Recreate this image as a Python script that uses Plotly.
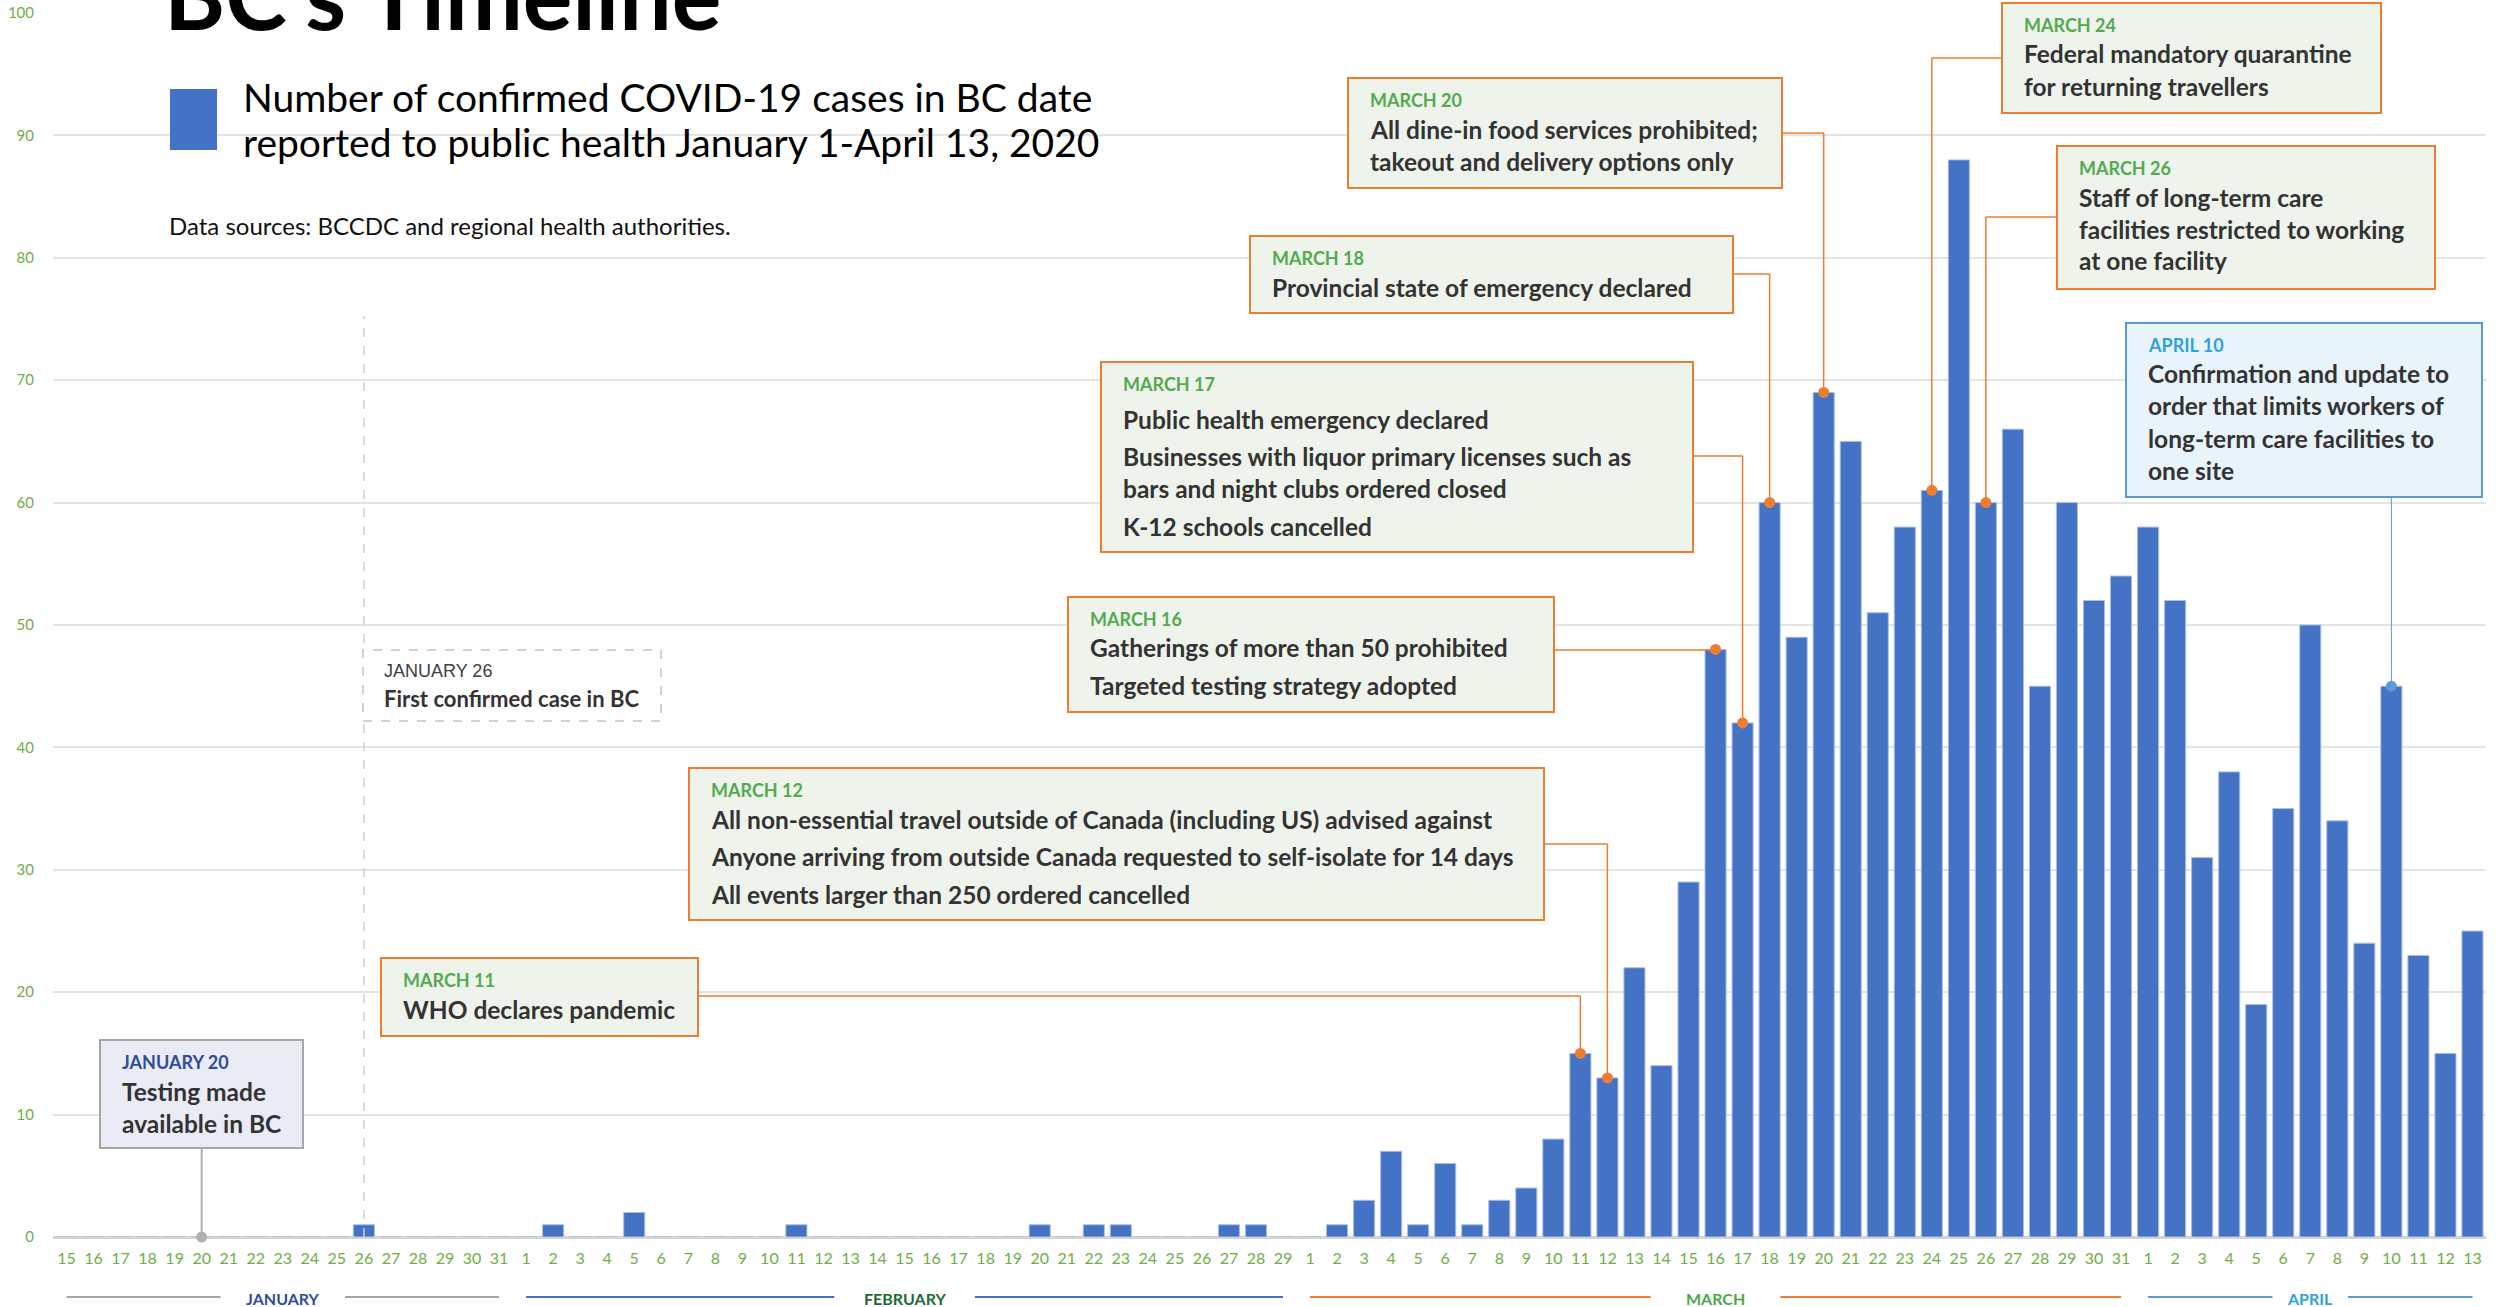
import pandas as pd
import plotly.graph_objects as go

# Confirmed COVID-19 cases in BC by date reported to public health
jan_days = list(range(15, 32))
feb_days = list(range(1, 30))
mar_days = list(range(1, 32))
apr_days = list(range(1, 14))

jan_cases = [0, 0, 0, 0, 0, 0, 0, 0, 0, 0, 0, 1, 0, 0, 0, 0, 0]
feb_cases = [0, 1, 0, 0, 2, 0, 0, 0, 0, 0, 1, 0, 0, 0, 0,
             0, 0, 0, 0, 1, 0, 1, 1, 0, 0, 0, 1, 1, 0]
mar_cases = [0, 1, 3, 7, 1, 6, 1, 3, 4, 8, 15, 13, 22, 14, 29, 48,
             42, 60, 49, 69, 65, 51, 58, 61, 88, 60, 66, 45, 60, 52, 54]
apr_cases = [58, 52, 31, 38, 19, 35, 50, 34, 24, 45, 23, 15, 25]

month_names = ["JANUARY", "FEBRUARY", "MARCH", "APRIL"]
month_nums = [1, 2, 3, 4]
month_days = [jan_days, feb_days, mar_days, apr_days]

dates = [pd.Timestamp(2020, m, d) for m, days in zip(month_nums, month_days) for d in days]
cases = jan_cases + feb_cases + mar_cases + apr_cases
case_on = dict(zip(dates, cases))

# colours
BAR_BLUE = "#4472c4"
AXIS_GREEN = "#70ad47"
ORANGE = "#ed7d31"
TEXT = "#333333"
FONT = "Lato"

month_text_colors = ["#2f4b9c", "#1d6b33", "#4ea84a", "#2ea3d6"]
month_line_colors = ["#a6a6a6", "#4472c4", ORANGE, "#5b9bd5"]
month_gap = [2.3, 2.6, 2.4, 1.4]   # half gap (days) left round the month label

box_styles = {
    "orange": dict(fill="#eef4ec", line=ORANGE, title="#55a94f", link=ORANGE, lw=1.5),
    "grey": dict(fill="#e9ebf5", line="#a6a6a6", title="#2f4b9c", link="#b0b0b0", lw=2),
    "blue": dict(fill="#e8f3fa", line="#5b9bd5", title="#2fa3d6", link="#5b9bd5", lw=1),
}

# timeline events: date, title, body items (wrapped lines), box in px, link side, link y in px
events = [
    dict(date="2020-01-20", title="JANUARY 20", body=[["Testing made", "available in BC"]],
         box=(100, 1040, 303, 1148), side="below", style="grey"),
    dict(date="2020-03-11", title="MARCH 11", body=[["WHO declares pandemic"]],
         box=(381, 958, 698, 1036), side="right", ly=996, style="orange"),
    dict(date="2020-03-12", title="MARCH 12",
         body=[["All non-essential travel outside of Canada (including US) advised against"],
               ["Anyone arriving from outside Canada requested to self-isolate for 14 days"],
               ["All events larger than 250 ordered cancelled"]],
         box=(689, 768, 1544, 920), side="right", ly=844, style="orange"),
    dict(date="2020-03-16", title="MARCH 16",
         body=[["Gatherings of more than 50 prohibited"], ["Targeted testing strategy adopted"]],
         box=(1068, 597, 1554, 712), side="right", ly=650, style="orange"),
    dict(date="2020-03-17", title="MARCH 17",
         body=[["Public health emergency declared"],
               ["Businesses with liquor primary licenses such as", "bars and night clubs ordered closed"],
               ["K-12 schools cancelled"]],
         box=(1101, 362, 1693, 552), side="right", ly=456, style="orange", first=35),
    dict(date="2020-03-18", title="MARCH 18", body=[["Provincial state of emergency declared"]],
         box=(1250, 236, 1733, 313), side="right", ly=274, style="orange"),
    dict(date="2020-03-20", title="MARCH 20",
         body=[["All dine-in food services prohibited;", "takeout and delivery options only"]],
         box=(1348, 78, 1782, 188), side="right", ly=133, style="orange"),
    dict(date="2020-03-24", title="MARCH 24",
         body=[["Federal mandatory quarantine", "for returning travellers"]],
         box=(2002, 3, 2381, 113), side="left", ly=58, style="orange"),
    dict(date="2020-03-26", title="MARCH 26",
         body=[["Staff of long-term care", "facilities restricted to working", "at one facility"]],
         box=(2057, 146, 2435, 289), side="left", ly=217, style="orange"),
    dict(date="2020-04-10", title="APRIL 10",
         body=[["Confirmation and update to", "order that limits workers of",
                "long-term care facilities to", "one site"]],
         box=(2126, 323, 2482, 497), side="below", style="blue"),
]

# plot area in page pixels
PL, PT, PW, PH = 53, 13, 2433, 1224
DAY_PX = PW / len(dates)


def px_x(px):
    return (px - PL) / PW


def px_y(py):
    return (PT + PH - py) / PH


def day_at(px):
    return dates[0] + pd.Timedelta(days=(px - PL) / DAY_PX - 0.5)


def val_at(py):
    return (PT + PH - py) / PH * 100


fig = go.Figure()

fig.add_trace(go.Bar(
    x=dates, y=cases,
    marker=dict(color=BAR_BLUE, line=dict(color="#a9bfe8", width=1)),
    name="Number of confirmed COVID-19 cases",
    hovertemplate="%{x|%b %d}: %{y}<extra></extra>",
))

# ---- callout boxes with connectors
for ev in events:
    st = box_styles[ev["style"]]
    x0, y0, x1, y1 = ev["box"]
    d = pd.Timestamp(ev["date"])
    v = case_on[d]
    fig.add_shape(type="rect", xref="paper", yref="paper",
                  x0=px_x(x0), x1=px_x(x1), y0=px_y(y1), y1=px_y(y0),
                  fillcolor=st["fill"], line=dict(color=st["line"], width=2))
    if ev["side"] == "below":
        fig.add_shape(type="line", x0=d, x1=d, y0=val_at(y1), y1=v,
                      line=dict(color=st["link"], width=st["lw"]))
    else:
        edge = x1 if ev["side"] == "right" else x0
        ly = val_at(ev["ly"])
        fig.add_shape(type="line", x0=day_at(edge), x1=d, y0=ly, y1=ly,
                      line=dict(color=st["link"], width=st["lw"]))
        fig.add_shape(type="line", x0=d, x1=d, y0=ly, y1=v,
                      line=dict(color=st["link"], width=st["lw"]))

    tx = px_x(x0 + 20)
    cy = y0 + 22
    fig.add_annotation(xref="paper", yref="paper", x=tx, y=px_y(cy), text=ev["title"],
                       xanchor="left", yanchor="middle", showarrow=False,
                       font=dict(family=FONT, size=18, color=st["title"], weight="bold"))
    cy += ev.get("first", 29)
    for i, item in enumerate(ev["body"]):
        if i > 0:
            cy += 37.5
        for j, line in enumerate(item):
            if j > 0:
                cy += 32
            fig.add_annotation(xref="paper", yref="paper", x=tx, y=px_y(cy), text=line,
                               xanchor="left", yanchor="middle", showarrow=False,
                               font=dict(family=FONT, size=24.5, color=TEXT, weight="bold"))

# dots at the bar tops
dot_dates = [pd.Timestamp(ev["date"]) for ev in events]
fig.add_trace(go.Scatter(
    x=dot_dates, y=[case_on[d] for d in dot_dates], mode="markers",
    marker=dict(size=11, color=[box_styles[ev["style"]]["link"] for ev in events]),
    cliponaxis=False, hoverinfo="skip", showlegend=False,
))

# ---- first confirmed case (dashed)
first_case = pd.Timestamp("2020-01-26")
fig.add_shape(type="line", x0=first_case, x1=first_case, y0=0, y1=val_at(316),
              line=dict(color="#cfcfcf", width=1.5, dash="dash"))
fig.add_shape(type="rect", xref="paper", yref="paper",
              x0=px_x(363), x1=px_x(661), y0=px_y(721), y1=px_y(650),
              fillcolor="white", line=dict(color="#c4c4c4", width=1.5, dash="dash"))
fig.add_annotation(xref="paper", yref="paper", x=px_x(382), y=px_y(671), text="JANUARY 26",
                   xanchor="left", yanchor="middle", showarrow=False,
                   font=dict(family="Liberation Sans", size=18, color="#404040"))
fig.add_annotation(xref="paper", yref="paper", x=px_x(382), y=px_y(698), text="First confirmed case in BC",
                   xanchor="left", yanchor="middle", showarrow=False,
                   font=dict(family=FONT, size=22, color=TEXT, weight="bold"))

# ---- month labels under the day ticks
for name, mdays, m, tcol, lcol, gap in zip(month_names, month_days, month_nums,
                                           month_text_colors, month_line_colors, month_gap):
    first = pd.Timestamp(2020, m, mdays[0])
    last = pd.Timestamp(2020, m, mdays[-1])
    mid = first + (last - first) / 2
    half = pd.Timedelta(days=gap)
    for a, b in [(first, mid - half), (mid + half, last)]:
        fig.add_shape(type="line", xref="x", yref="paper", x0=a, x1=b,
                      y0=px_y(1297), y1=px_y(1297), line=dict(color=lcol, width=2))
    fig.add_annotation(xref="x", yref="paper", x=mid, y=px_y(1298), text=name,
                       showarrow=False, yanchor="middle",
                       font=dict(family=FONT, size=16, color=tcol, weight="bold"))

# ---- title and key
fig.add_annotation(xref="paper", yref="paper", x=px_x(141), y=px_y(-6), text="<b>BC's Timeline</b>",
                   xanchor="left", yanchor="middle", showarrow=False, bgcolor="white", borderpad=22,
                   font=dict(family=FONT, size=93, color="black"))
fig.add_shape(type="rect", xref="paper", yref="paper",
              x0=px_x(170), x1=px_x(217), y0=px_y(150), y1=px_y(89),
              fillcolor=BAR_BLUE, line=dict(width=0))
for text, cy in [("Number of confirmed COVID-19 cases in BC date", 97),
                 ("reported to public health January 1-April 13, 2020", 142)]:
    fig.add_annotation(xref="paper", yref="paper", x=px_x(241), y=px_y(cy), text=text,
                       xanchor="left", yanchor="middle", showarrow=False,
                       font=dict(family=FONT, size=39, color="black"))
fig.add_annotation(xref="paper", yref="paper", x=px_x(167), y=px_y(225),
                   text="Data sources: BCCDC and regional health authorities.",
                   xanchor="left", yanchor="middle", showarrow=False,
                   font=dict(family=FONT, size=24, color="#111111"))

fig.update_layout(
    width=2499, height=1307,
    margin=dict(l=PL, r=2499 - PL - PW, t=PT, b=1307 - PT - PH, autoexpand=False),
    plot_bgcolor="white", paper_bgcolor="white",
    bargap=0.22, showlegend=False,
    font=dict(family=FONT),
)
fig.update_xaxes(
    type="date", automargin=False,
    range=[dates[0] - pd.Timedelta(hours=12), dates[-1] + pd.Timedelta(hours=12)],
    tick0=dates[0], dtick=86400000, tickformat="%-d", tickangle=0,
    ticks="", showgrid=False, zeroline=False, showline=False,
    tickfont=dict(family=FONT, size=16, color=AXIS_GREEN), ticklabelstandoff=10,
)
fig.update_yaxes(
    range=[0, 100], dtick=10, automargin=False,
    gridcolor="#e4e4e4", gridwidth=2,
    zeroline=True, zerolinecolor="#d4d4d4", zerolinewidth=3,
    tickfont=dict(family=FONT, size=15, color=AXIS_GREEN), ticklabelstandoff=18,
)

fig.write_html("out.html", config={"displayModeBar": False},
               post_script="document.body.style.margin='0';")
